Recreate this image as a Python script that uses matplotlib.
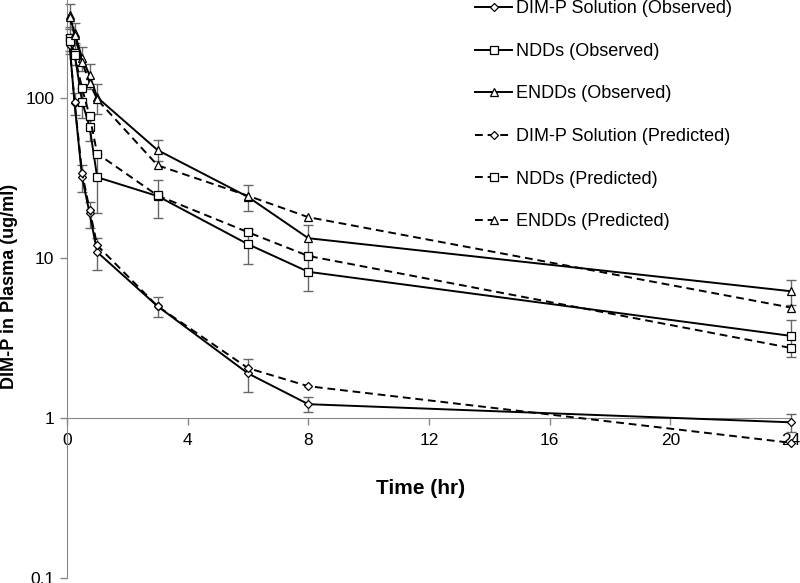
import matplotlib
matplotlib.use('Agg')
import matplotlib.pyplot as plt
from matplotlib.ticker import FixedLocator, FixedFormatter

# Tempo de coleta (h)
time = [0.083, 0.25, 0.5, 0.75, 1, 3, 6, 8, 24]

# DIM-P Solution
sol_obs = [218, 93, 32, 19, 10.9, 5.0, 1.9, 1.22, 0.94]
sol_err = [30, 15, 6, 3.5, 2.5, 0.7, 0.45, 0.13, 0.12]
sol_pred = [215, 95, 34, 20, 12.0, 5.0, 2.05, 1.58, 0.70]

# NDDs
ndd_obs = [237, 190, 95, 66, 32, 24.4, 12.2, 8.2, 3.26]
ndd_err = [40, 30, 20, 12, 13, 6.5, 3.0, 2.0, 0.85]
ndd_pred = [228, 185, 115, 77, 45, 24.6, 14.5, 10.3, 2.74]

# ENDDs
endd_obs = [330, 255, 178, 139, 101, 47.3, 24.1, 13.3, 6.2]
endd_err = [58, 40, 30, 25, 22, 7.0, 4.3, 2.8, 1.1]
endd_pred = [320, 248, 168, 125, 98, 38, 24.5, 18, 4.9]

x_ticks = [0, 4, 8, 12, 16, 20, 24]
y_ticks = [0.1, 1, 10, 100]
y_labels = ['0.1', '1', '10', '100']

plt.rcParams['font.family'] = ['Liberation Sans', 'DejaVu Sans']

fig = plt.figure(figsize=(8, 5.83), dpi=100)
ax = fig.add_axes([67 / 800, 5 / 583, (791 - 67) / 800, 578 / 583])

line_kw = dict(color='black', lw=1.4, markerfacecolor='white',
               markeredgewidth=0.9, clip_on=False, zorder=3)
err_kw = dict(fmt='none', ecolor='#666666', elinewidth=1.0, capsize=3.5,
              capthick=1.0, clip_on=False, zorder=2)

ax.errorbar(time, sol_obs, yerr=sol_err, **err_kw)
ax.errorbar(time, ndd_obs, yerr=ndd_err, **err_kw)
ax.errorbar(time, endd_obs, yerr=endd_err, **err_kw)

ax.plot(time, sol_obs, '-', marker='D', markersize=4.5, label='DIM-P Solution (Observed)', **line_kw)
ax.plot(time, ndd_obs, '-', marker='s', markersize=5.5, label='NDDs (Observed)', **line_kw)
ax.plot(time, endd_obs, '-', marker='^', markersize=5.5, label='ENDDs (Observed)', **line_kw)
ax.plot(time, sol_pred, '--', marker='D', markersize=4.5, label='DIM-P Solution (Predicted)',
        dashes=(4, 2.5), **line_kw)
ax.plot(time, ndd_pred, '--', marker='s', markersize=5.5, label='NDDs (Predicted)',
        dashes=(4, 2.5), **line_kw)
ax.plot(time, endd_pred, '--', marker='^', markersize=5.5, label='ENDDs (Predicted)',
        dashes=(4, 2.5), **line_kw)

ax.set_yscale('log')
ax.set_ylim(0.1, 410)
ax.set_xlim(0, 24)

ax.yaxis.set_major_locator(FixedLocator(y_ticks))
ax.yaxis.set_major_formatter(FixedFormatter(y_labels))
ax.yaxis.set_minor_locator(FixedLocator([]))
ax.set_xticks(x_ticks)

for s in ['top', 'right']:
    ax.spines[s].set_visible(False)
ax.spines['bottom'].set_position(('data', 1))
ax.spines['bottom'].set_color('#888888')
ax.spines['left'].set_color('#888888')
ax.tick_params(axis='both', colors='#888888', labelcolor='black', labelsize=12.5,
               length=5, width=1)
ax.tick_params(axis='y', pad=4)
ax.tick_params(axis='x', pad=6)

fig.text(421 / 800, 1 - 488 / 583, 'Time (hr)', fontsize=15, fontweight='bold',
         ha='center', va='center')
fig.text(10 / 800, 1 - 286 / 583, 'DIM-P in Plasma (ug/ml)', fontsize=13,
         fontweight='bold', rotation=90, ha='center', va='center')

leg = fig.legend(loc='upper left', bbox_to_anchor=(468 / 800, 1 + 7 / 583),
                 frameon=False, fontsize=13, handlelength=2.05, handletextpad=0.22,
                 labelspacing=1.42, borderaxespad=0)

fig.savefig('out.png', dpi=100)
